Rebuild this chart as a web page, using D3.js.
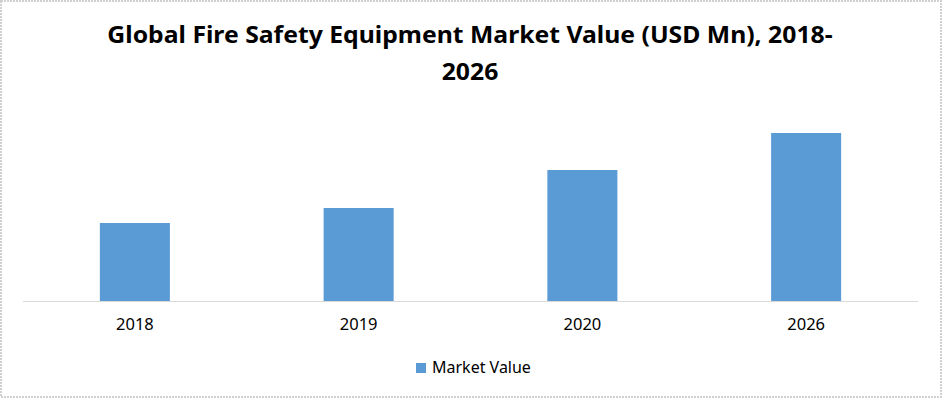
<!DOCTYPE html>
<html>
<head>
<meta charset="utf-8">
<script src="https://cdn.jsdelivr.net/npm/d3@7.9.0/dist/d3.min.js"></script>
<style>
  body { margin: 0; background: #fff; }
  svg { display: block; }
</style>
</head>
<body>
<svg id="chart" width="943" height="399"></svg>
<script>
// data (no axis in the original, so scale is relative)
const years = ['2018', '2019', '2020', '2026'];
const marketValue = [39, 46.5, 65.5, 84];
const seriesName = 'Market Value';
const titleLines = ['Global Fire Safety Equipment Market Value (USD Mn), 2018-', '2026'];

const width = 943, height = 399;
const svg = d3.select('#chart');

// chart border
svg.append('rect')
  .attr('x', 1).attr('y', 1)
  .attr('width', width - 3).attr('height', height - 3)
  .attr('fill', '#fff')
  .attr('stroke', '#d0d0d0')
  .attr('stroke-width', 2)
  .attr('stroke-dasharray', '2,1');

let x = d3.scaleBand()
  .domain(years)
  .range([23, 918])
  .paddingInner(0.687)
  .paddingOuter(0.3435);

let y = d3.scaleLinear()
  .domain([0, 100])
  .range([301, 101]);

// bars
svg.append('g')
  .selectAll('rect')
  .data(years)
  .join('rect')
  .attr('x', d => x(d))
  .attr('y', (d, i) => y(marketValue[i]))
  .attr('width', x.bandwidth())
  .attr('height', (d, i) => y(0) - y(marketValue[i]))
  .attr('fill', '#5b9bd5');

// x axis
let xAxis = svg.append('g')
  .attr('transform', `translate(0,${y(0)})`)
  .call(d3.axisBottom(x).tickSize(0).tickPadding(17));
xAxis.select('.domain').attr('stroke', '#d9d9d9').attr('d', 'M23,0.5H918');
xAxis.selectAll('text')
  .attr('font-family', '"Noto Sans", sans-serif')
  .attr('font-size', 16.5)
  .attr('fill', '#000');

// title
const title = svg.append('g')
  .attr('font-family', '"Noto Sans", sans-serif')
  .attr('font-weight', 'bold')
  .attr('text-anchor', 'middle')
  .attr('fill', '#000');
titleLines.forEach((line, i) => {
  title.append('text')
    .attr('x', 470)
    .attr('y', 43 + i * 37)
    .attr('font-size', 23)
    .text(line);
});
// stretch the lines to the width of the original first line
let w0 = title.select('text').node().getComputedTextLength();
title.selectAll('text')
  .attr('transform', `translate(470,0) scale(${726 / w0},1) translate(-470,0)`);

// legend
const legend = svg.append('g');
legend.append('rect')
  .attr('x', 416).attr('y', 363)
  .attr('width', 10).attr('height', 10)
  .attr('fill', '#5b9bd5');
legend.append('text')
  .attr('x', 432).attr('y', 372.5)
  .attr('font-family', '"Noto Sans", sans-serif')
  .attr('font-size', 16)
  .attr('fill', '#000')
  .text(seriesName);
</script>
</body>
</html>
